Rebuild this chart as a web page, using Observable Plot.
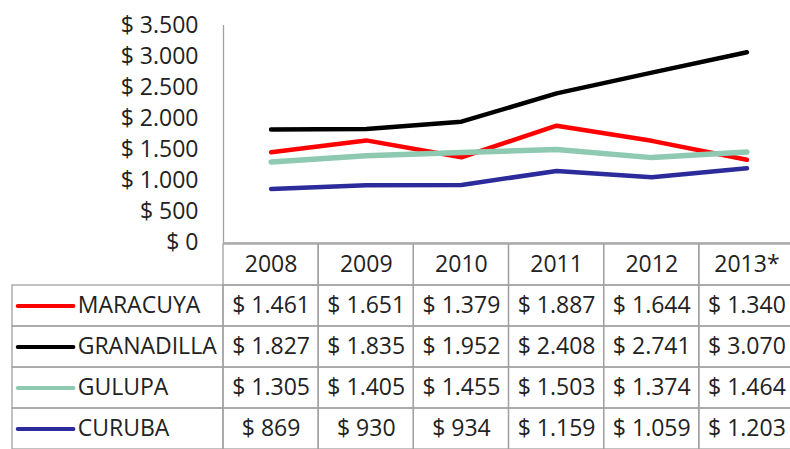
<!DOCTYPE html>
<html>
<head>
<meta charset="utf-8">
<script src="https://cdn.jsdelivr.net/npm/d3@7"></script>
<script src="https://cdn.jsdelivr.net/npm/@observablehq/plot@0.6"></script>
<style>
  html, body { margin: 0; padding: 0; background: #ffffff; }
  #chart svg { display: block; }
</style>
</head>
<body>
<div id="chart"></div>
<script>
// ---- data ----
const years = ["2008", "2009", "2010", "2011", "2012", "2013*"];
const seriesNames = ["MARACUYA", "GRANADILLA", "GULUPA", "CURUBA"];
const maracuya   = [1461, 1651, 1379, 1887, 1644, 1340];
const granadilla = [1827, 1835, 1952, 2408, 2741, 3070];
const gulupa     = [1305, 1405, 1455, 1503, 1374, 1464];
const curuba     = [869, 930, 934, 1159, 1059, 1203];
const yTicks = [0, 500, 1000, 1500, 2000, 2500, 3000, 3500];

// ---- styling / layout ----
const seriesValues = [maracuya, granadilla, gulupa, curuba];
const colors = ["#ff0000", "#000000", "#8ec9b2", "#2b2b9b"];
const widths = [4.5, 4.5, 5.5, 4.5];
const grid = "#a0a0a0";
const textColor = "#222222";
const font = "'Open Sans', sans-serif";

const loc = d3.formatLocale({decimal: ",", thousands: ".", grouping: [3], currency: ["$", ""]});
const fmtNum = loc.format(",");
const money = v => "$ " + fmtNum(v);

const records = [];
seriesNames.forEach((s, si) => years.forEach((y, i) => records.push({series: s, si, year: y, col: i, value: seriesValues[si][i]})));

const plotLeft = 223, plotRight = 794, tableLeft = 12;
const bw = (plotRight - plotLeft) / years.length;
const L = (plotLeft - tableLeft) / bw;
const xScale = {domain: [-L, years.length], range: [tableLeft, plotRight], axis: null};
const baseStyle = {fontFamily: font, fontSize: "23px", color: textColor, background: "transparent", overflow: "visible"};

const chart = Plot.plot({
  width: 790, height: 243,
  marginLeft: plotLeft, marginRight: 0, marginTop: 0, marginBottom: 0,
  style: baseStyle,
  x: xScale,
  y: {domain: [0, 3500], range: [242.5, 25], ticks: yTicks, tickFormat: money, tickSize: 0, tickPadding: 25, label: null},
  marks: [
    Plot.ruleX([0], {y1: 0, y2: 3500, stroke: grid, strokeWidth: 1.3}),
    Plot.ruleY([0], {x1: 0, x2: years.length, stroke: grid, strokeWidth: 1.3}),
    ...seriesNames.map((s, si) => Plot.line(records.filter(d => d.si === si), {
      x: d => d.col + 0.5, y: "value", stroke: colors[si], strokeWidth: widths[si],
      strokeLinecap: "round", strokeLinejoin: "round"
    }))
  ]
});

const rows = ["hdr", ...seriesNames];
const headerCells = years.map((y, i) => ({row: "hdr", col: i, text: y}));
const valueCells = records.map(d => ({row: d.series, col: d.col, text: money(d.value)}));
const allCells = [...headerCells, ...valueCells];

const table = Plot.plot({
  width: 790, height: 206,
  margin: 0,
  style: baseStyle,
  x: xScale,
  y: {type: "band", domain: rows, range: [-0.5, 207.5], padding: 0, axis: null},
  marks: [
    Plot.barX(allCells, {x1: d => d.col, x2: d => d.col + 1, y: "row", fill: "none", stroke: grid, strokeWidth: 1.3}),
    Plot.barX(seriesNames, {x1: -L, x2: 0, y: d => d, fill: "none", stroke: grid, strokeWidth: 1.3}),
    ...seriesNames.map((s, si) => Plot.link([s], {
      x1: -L + 0.055, x2: -L + 0.64, y1: d => d, y2: d => d,
      stroke: colors[si], strokeWidth: 4, strokeLinecap: "round"
    })),
    Plot.text(seriesNames, {x: -L + 0.685, y: d => d, text: d => d, textAnchor: "start", fill: textColor}),
    Plot.text(allCells, {x: d => d.col + 0.5, y: "row", text: "text", fill: textColor})
  ]
});

const root = document.getElementById("chart");
root.append(chart, table);
</script>
</body>
</html>
